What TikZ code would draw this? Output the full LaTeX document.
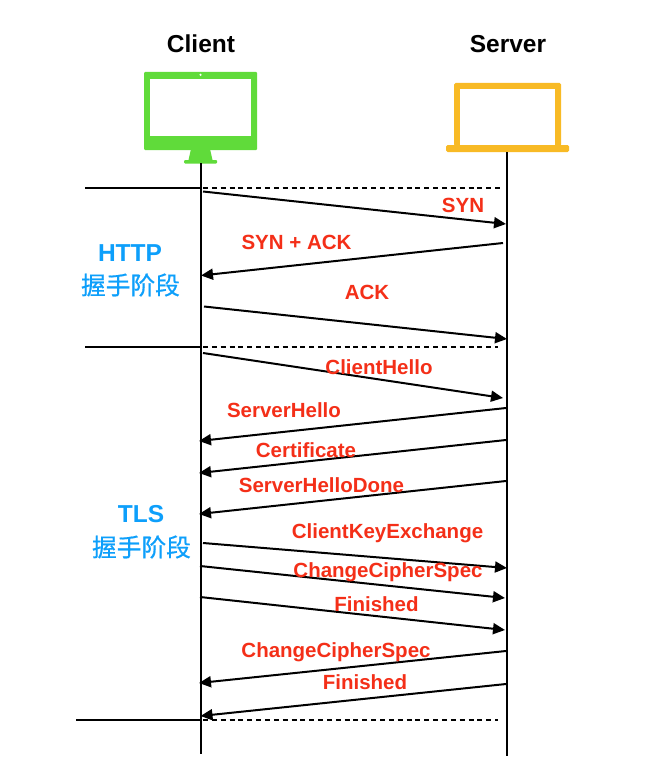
\documentclass[tikz,border=0pt]{standalone}
\usepackage{fontspec}
\setmainfont{Liberation Sans}
\newfontfamily\cjkfont[FakeBold=0.6]{Noto Sans CJK SC}
\usetikzlibrary{arrows.meta}
\definecolor{cgreen}{HTML}{60DB3A}
\definecolor{corange}{HTML}{F8BA25}
\definecolor{cred}{HTML}{F42F18}
\definecolor{cblue}{HTML}{0D9FFB}
\tikzset{
  title/.style={font=\bfseries\fontsize{24.5}{26}\selectfont,text=black,inner sep=0pt},
  msg/.style={font=\bfseries\fontsize{20.5}{22}\selectfont,text=cred,inner sep=0pt},
  phase/.style={font=\bfseries\fontsize{24.5}{26}\selectfont,text=cblue,inner sep=0pt},
  phasecn/.style={font=\cjkfont\fontsize{24.7}{26}\selectfont,text=cblue,inner sep=0pt},
  life/.style={draw=black,line width=2pt},
  rule/.style={draw=black,line width=2pt},
  dashrule/.style={draw=black,line width=2pt,dash pattern=on 5pt off 3.85pt},
  arrow/.style={draw=black,line width=2pt,-{Triangle[length=12pt,width=11pt]},shorten >=0pt},
}
\begin{document}
\begin{tikzpicture}[x=1pt,y=-1pt]
\useasboundingbox[fill=white] (0,0) rectangle (671,773);
% client monitor
\fill[cgreen,rounded corners=1pt] (144,72) rectangle (257,150);
\fill[white] (150,79) rectangle (251,136);
\fill[white] (200.5,74.8) circle (1.2);
\fill[cgreen] (191,149) -- (210,149) -- (212.5,160) -- (188.5,160) -- cycle;
\fill[cgreen,rounded corners=1pt] (184,160) rectangle (217,163.5);
% server laptop
\fill[corange,rounded corners=1.5pt] (454,83) rectangle (561,146);
\fill[white] (459.5,89) rectangle (555,146);
\fill[corange,rounded corners=1.5pt] (446,145) rectangle (569,152);
% anchors
\coordinate (ctop) at (200.5,163);
\coordinate (cbot) at (200.5,754);
\coordinate (stop) at (507,152);
\coordinate (sbot) at (507,756);
\path[life] (ctop) -- (cbot);
\path[life] (stop) -- (sbot);
% phase rules
\foreach \n/\xa/\xb/\xc/\yy in {a/85/203/500/188,b/85/203/498/347,c/76/203/498/720}{
  \coordinate (\n0) at (\xa,\yy);
  \coordinate (\n1) at (199.5,\yy);
  \coordinate (\n2) at (\xb,\yy);
  \coordinate (\n3) at (\xc,\yy);
  \path[rule] (\n0) -- (\n1);
  \path[dashrule] (\n2) -- (\n3);
}
% messages
\foreach \n/\xa/\ya/\xb/\yb in {
  m1/203/191.5/506/224,
  m2/503/243/201/275.5,
  m3/204/306.5/507/339,
  m4/203/353/503/398,
  m5/506/408/199/441,
  m6/506/440/199/473,
  m7/506/481/199/514,
  m8/203/543/507/568,
  m9/200/566/505/598,
  m10/200/597/505/630,
  m11/506/651/199/683,
  m12/506/684/200.5/716}{
  \coordinate (\n s) at (\xa,\ya);
  \coordinate (\n e) at (\xb,\yb);
  \path[arrow] (\n s) -- (\n e);
}
% labels
\node[title] (client) at (201,44) {Client};
\node[title] (server) at (508,44) {Server};
\node[phase] (http) at (130,253) {HTTP};
\node[phasecn] (httpcn) at (130.5,285) {握手阶段};
\node[phase] (tls) at (141,514) {TLS};
\node[phasecn] (tlscn) at (141.5,547) {握手阶段};
\node[msg] (l1) at (463,205) {SYN};
\node[msg] (l2) at (296.5,242) {SYN + ACK};
\node[msg] (l3) at (367,292) {ACK};
\node[msg] (l4) at (379,367) {ClientHello};
\node[msg] (l5) at (284,410) {ServerHello};
\node[msg] (l6) at (306,450) {Certificate};
\node[msg] (l7) at (321.5,485) {ServerHelloDone};
\node[msg] (l8) at (387.5,533.5) {ClientKeyExchange};
\node[msg] (l9) at (388,572.5) {ChangeCipherSpec};
\node[msg] (l10) at (376.5,604) {Finished};
\node[msg] (l11) at (336,652.5) {ChangeCipherSpec};
\node[msg] (l12) at (365,682) {Finished};
\end{tikzpicture}
\end{document}
